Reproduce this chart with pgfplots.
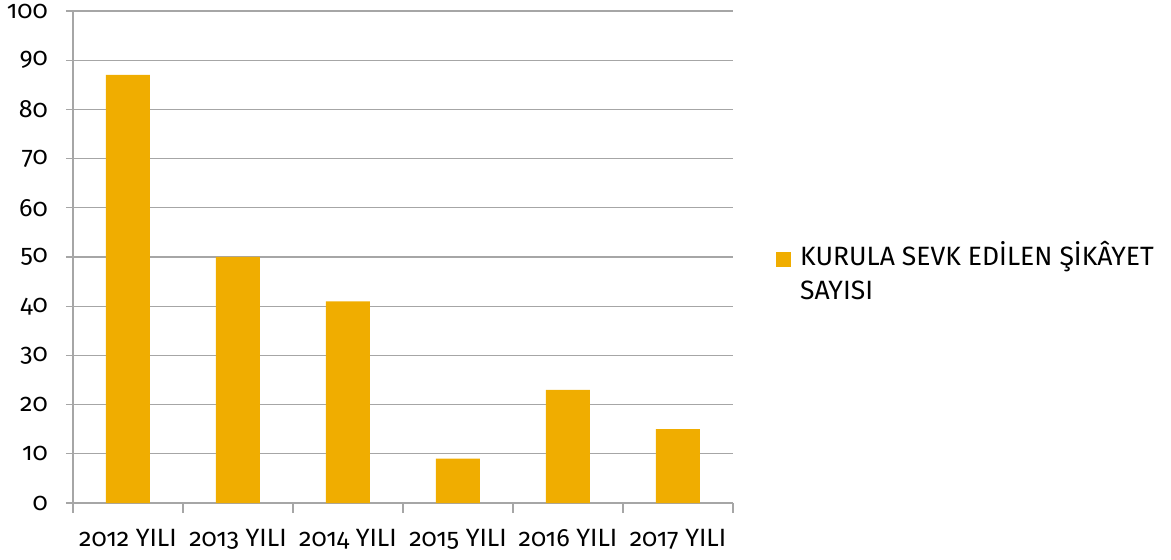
\documentclass[border=0pt]{standalone}
\usepackage{fontspec}
\setmainfont{Fira Sans}[Numbers=OldStyle]
\usepackage{pgfplots}
\pgfplotsset{compat=1.18}
\definecolor{barc}{HTML}{F0AD00}
\definecolor{gridc}{HTML}{A6A6A6}
\begin{document}
\begin{tikzpicture}
\useasboundingbox (-73pt,-57pt) rectangle (1098pt,503pt);
\begin{axis}[
    at={(0pt,0pt)}, anchor=south west,
    scale only axis, width=660pt, height=492pt,
    xmin=-0.5, xmax=5.5, ymin=0, ymax=100,
    axis lines*=left,
    axis line style={gridc, line width=1.2pt},
    ymajorgrids,
    grid style={gridc, line width=1.2pt},
    tick style={gridc, line width=1.2pt},
    tick align=outside,
    major tick length=7pt,
    minor tick length=10pt,
    ytick={0,10,...,100},
    xtick={0,...,5},
    xticklabels={2012 YILI,2013 YILI,2014 YILI,2015 YILI,2016 YILI,2017 YILI},
    minor xtick={-0.5,0.5,...,5.5},
    major x tick style={draw=none},
    /pgf/number format/assume math mode=true,
    ticklabel style={inner sep=0pt},
    xticklabel style={font=\fontsize{25}{30}\selectfont, anchor=north, yshift=-19pt},
    yticklabel style={font=\fontsize{25}{30}\selectfont, anchor=east, xshift=-18pt},
    ybar, bar width=44pt,
    legend style={at={(1.0652,0.4705)}, anchor=west, draw=none, fill=none,
        inner sep=0pt, column sep=7pt,
        font=\fontsize{26.5}{34}\selectfont,
        cells={anchor=west, align=left}},
    legend image code/.code={\fill[barc] (0pt,5pt) rectangle (15pt,20pt);},
]
\addplot[fill=barc, draw=none] coordinates {(0,87) (1,50) (2,41) (3,9) (4,23) (5,15)};
\addlegendentry{KURULA SEVK EDİLEN ŞİKÂYET\\SAYISI}
\end{axis}
\end{tikzpicture}
\end{document}
